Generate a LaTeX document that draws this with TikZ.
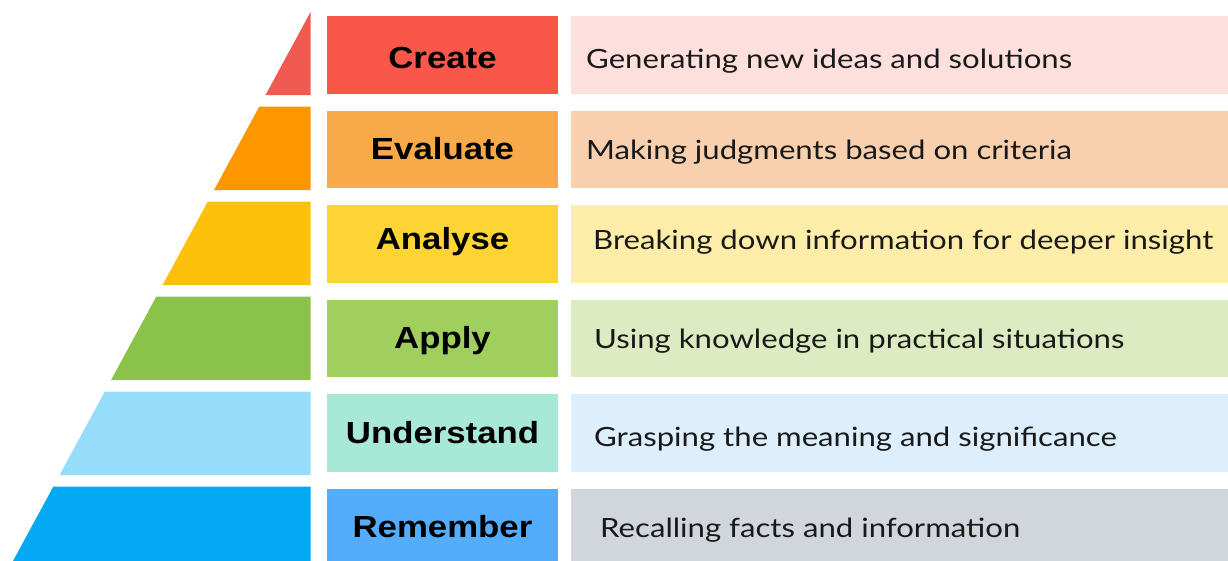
\documentclass[tikz,border=0pt]{standalone}
\usepackage{fontspec}
\setmainfont[FakeStretch=1.175]{Lato}
\newfontfamily\titlefont[FakeStretch=1.14]{Liberation Sans}
\definecolor{p1}{HTML}{F05A50}\definecolor{b1}{HTML}{F9574A}\definecolor{d1}{HTML}{FDDFDD}
\definecolor{p2}{HTML}{FC9700}\definecolor{b2}{HTML}{F8AA4B}\definecolor{d2}{HTML}{F9D0AE}
\definecolor{p3}{HTML}{FDC10B}\definecolor{b3}{HTML}{FCD535}\definecolor{d3}{HTML}{FEEDA8}
\definecolor{p4}{HTML}{8BC34A}\definecolor{b4}{HTML}{A0CF5E}\definecolor{d4}{HTML}{DCEBC1}
\definecolor{p5}{HTML}{95DDFB}\definecolor{b5}{HTML}{A8E8D6}\definecolor{d5}{HTML}{DDEEFD}
\definecolor{p6}{HTML}{03A9F4}\definecolor{b6}{HTML}{53ADFC}\definecolor{d6}{HTML}{D1D6DD}
\tikzset{
  titlebox/.style={fill=#1, draw=none, minimum width=231pt, minimum height=77.3pt, inner sep=0pt, anchor=north west},
  descbox/.style={fill=#1, draw=none, minimum width=670pt, minimum height=77.3pt, inner sep=0pt, anchor=north west},
  ttl/.style={font=\titlefont\bfseries\fontsize{30.5}{30.5}\selectfont, text height=21.8pt, text depth=0pt, inner sep=0pt, anchor=center, text=black},
  dsc/.style={font=\fontsize{26.5}{26.5}\selectfont, text height=19pt, text depth=0pt, inner sep=0pt, anchor=west, text=black!90},
}
\newcommand{\pyrx}[1]{{310.7-0.542*(#1-11.7)}}
\begin{document}
\begin{tikzpicture}[x=1pt,y=-1pt]
\useasboundingbox (0,0) rectangle (1228,560);
\clip (0,0) rectangle (1228,560);
% pyramid layers
\fill[p1] (310.7,11.7) -- (310.7,95) -- (\pyrx{95},95) -- cycle;
\fill[p2] (310.7,106.7) -- (310.7,190) -- (\pyrx{190},190) -- (\pyrx{106.7},106.7) -- cycle;
\fill[p3] (310.7,201.7) -- (310.7,285) -- (\pyrx{285},285) -- (\pyrx{201.7},201.7) -- cycle;
\fill[p4] (310.7,296.7) -- (310.7,380) -- (\pyrx{380},380) -- (\pyrx{296.7},296.7) -- cycle;
\fill[p5] (310.7,391.7) -- (310.7,475) -- (\pyrx{475},475) -- (\pyrx{391.7},391.7) -- cycle;
\fill[p6] (310.7,486.7) -- (310.7,570) -- (\pyrx{570},570) -- (\pyrx{486.7},486.7) -- cycle;
% title boxes
\node[titlebox=b1] (tb1) at (327,16) {};
\node[titlebox=b2] (tb2) at (327,110.7) {};
\node[titlebox=b3] (tb3) at (327,205) {};
\node[titlebox=b4] (tb4) at (327,299.3) {};
\node[titlebox=b5] (tb5) at (327,394) {};
\node[titlebox=b6] (tb6) at (327,488.3) {};
% description boxes
\node[descbox=d1] (db1) at (571,16) {};
\node[descbox=d2] (db2) at (571,110.7) {};
\node[descbox=d3] (db3) at (571,205) {};
\node[descbox=d4] (db4) at (571,299.3) {};
\node[descbox=d5] (db5) at (571,394) {};
\node[descbox=d6] (db6) at (571,488.3) {};
% titles
\node[ttl] (t1) at (442.5,58) {Create};
\node[ttl] (t2) at (442.5,149) {Evaluate};
\node[ttl] (t3) at (442.5,239) {Analyse};
\node[ttl] (t4) at (442.5,338) {Apply};
\node[ttl] (t5) at (442.5,433) {Understand};
\node[ttl] (t6) at (442.5,527) {Remember};
% descriptions
\node[dsc] (s1) at (586,58.5) {Generating new ideas and solutions};
\node[dsc] (s2) at (586,149.5) {Making judgments based on criteria};
\node[dsc] (s3) at (593,239.5) {Breaking down information for deeper insight};
\node[dsc] (s4) at (594,338.5) {Using knowledge in practical situations};
\node[dsc] (s5) at (594,436.5) {Grasping the meaning and significance};
\node[dsc] (s6) at (600,527.5) {Recalling facts and information};
\end{tikzpicture}
\end{document}
